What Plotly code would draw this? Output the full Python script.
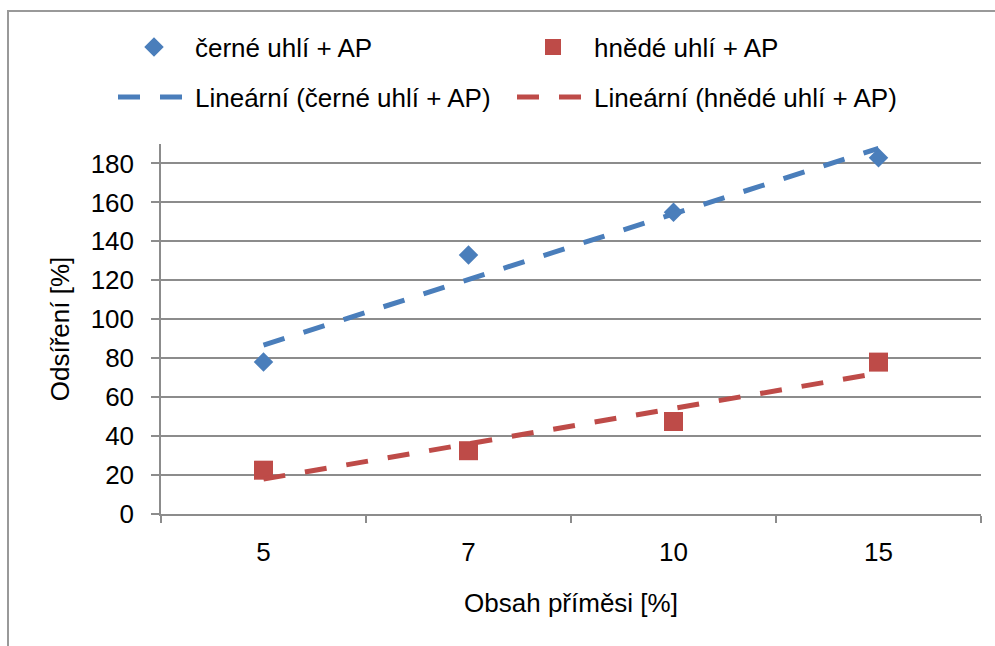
import numpy as np
import plotly.graph_objects as go

# Admixture content categories [%] and measured desulphurisation [%]
obsah = ["5", "7", "10", "15"]
cerne_uhli = [78, 133, 155, 183]
hnede_uhli = [22.5, 32.5, 47.5, 78]

BLUE = "#4A7EBB"
RED = "#BE4B48"
GRID = "#8C8C8C"
FONT = "Liberation Sans, Arial, sans-serif"
FS = 26


def linear_trend(values):
    # Excel-style linear trendline over a category axis (x = 1..n)
    x = np.arange(1, len(values) + 1)
    k, q = np.polyfit(x, values, 1)
    return list(k * x + q)


fig = go.Figure()

fig.add_trace(go.Scatter(
    x=obsah, y=cerne_uhli, mode="markers", name="černé uhlí + AP",
    marker=dict(symbol="diamond", size=15, color=BLUE), legend="legend"))
fig.add_trace(go.Scatter(
    x=obsah, y=hnede_uhli, mode="markers", name="hnědé uhlí + AP",
    marker=dict(symbol="square", size=19, color=RED), legend="legend"))
fig.add_trace(go.Scatter(
    x=obsah, y=linear_trend(cerne_uhli), mode="lines",
    name="Lineární (černé uhlí + AP)",
    line=dict(color=BLUE, width=5, dash="22px,20px"), legend="legend2"))
fig.add_trace(go.Scatter(
    x=obsah, y=linear_trend(hnede_uhli), mode="lines",
    name="Lineární (hnědé uhlí + AP)",
    line=dict(color=RED, width=5, dash="22px,20px"), legend="legend2"))

legend_common = dict(
    orientation="h", xref="container", yref="container",
    xanchor="left", yanchor="middle",
    font=dict(family=FONT, size=FS, color="#000000"),
    itemwidth=72, entrywidth=312, entrywidthmode="pixels",
    bgcolor="rgba(0,0,0,0)", itemclick=False, itemdoubleclick=False,
)

fig.update_layout(
    width=995, height=646,
    margin=dict(l=161, r=14, t=144, b=132, autoexpand=False),
    paper_bgcolor="white", plot_bgcolor="white",
    font=dict(family=FONT, size=FS, color="#000000"),
    showlegend=True,
    legend=dict(x=113 / 995, y=1 - 47 / 646, **legend_common),
    legend2=dict(x=113 / 995, y=1 - 97 / 646, **legend_common),
    xaxis=dict(
        type="category", range=[-0.5, 3.5],
        showline=True, linecolor=GRID, linewidth=1.5,
        ticks="outside", tickson="boundaries", ticklen=7,
        tickcolor=GRID, tickwidth=1.5,
        showgrid=False, zeroline=False,
        tickfont=dict(size=FS), ticklabelstandoff=14,
        title=dict(text="Obsah příměsi [%]", font=dict(size=FS), standoff=28),
    ),
    yaxis=dict(
        range=[0, 190], dtick=20, tick0=0,
        showline=True, linecolor=GRID, linewidth=1.5,
        ticks="outside", ticklen=8, tickcolor=GRID, tickwidth=1.5,
        showgrid=True, gridcolor=GRID, gridwidth=1.5,
        zeroline=False, tickfont=dict(size=FS), ticklabelstandoff=12,
        title=dict(text="Odsíření [%]", font=dict(size=FS), standoff=14),
    ),
    shapes=[dict(
        type="rect", xref="paper", yref="paper", layer="below",
        x0=(8 - 161) / 820, x1=1.2, y0=-1.0, y1=(514 - 11) / 370,
        line=dict(color="#999999", width=2), fillcolor="rgba(0,0,0,0)")],
)

fig.write_html("out.html")
